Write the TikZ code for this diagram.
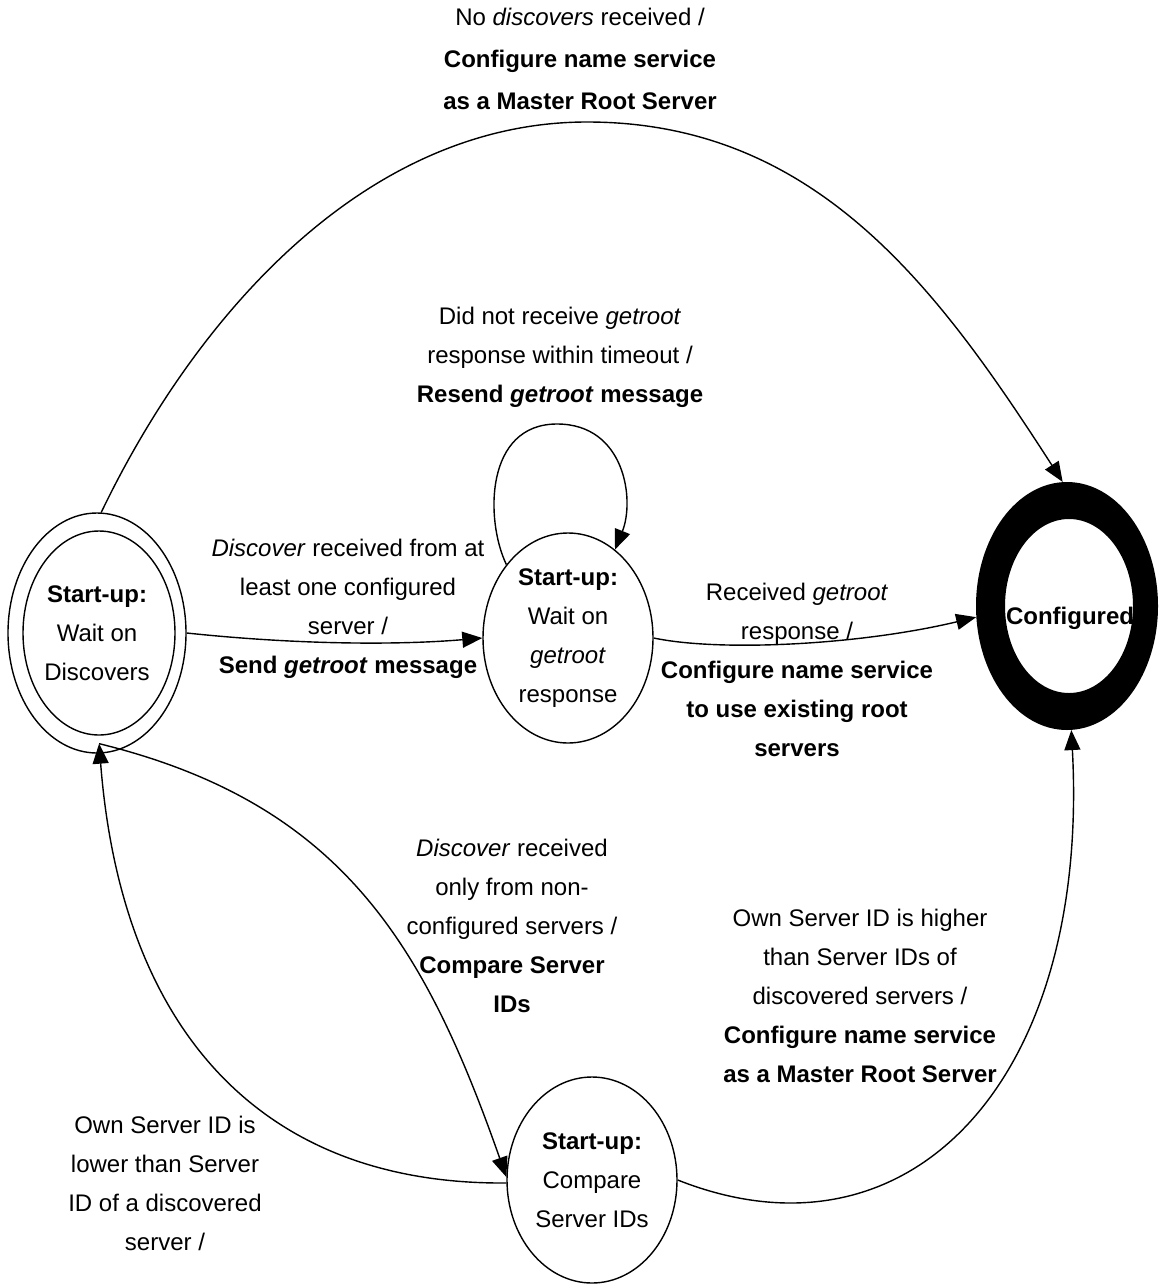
\documentclass[tikz,border=0pt]{standalone}
\usepackage{fontspec}
\setmainfont{Liberation Sans}
\usetikzlibrary{shapes.geometric,arrows.meta}
\begin{document}
\begin{tikzpicture}[x=1pt,y=-1pt,
  txt/.style={font=\fontsize{24}{39}\selectfont, align=center, inner sep=0pt},
  state/.style={ellipse, draw, line width=1.4pt, inner sep=0pt, txt},
  trans/.style={line width=1.4pt, -{Triangle[length=20pt,width=16pt]}},
  rim/.style={line width=1.4pt}]
\useasboundingbox (0,0) rectangle (1159,1285);

% states
\node[state, minimum width=178pt, minimum height=240pt] (A) at (97,633)
  {\textbf{Start-up:}\\Wait on\\Discovers};
\draw[rim] ([xshift=2pt]A.center) ellipse [x radius=76, y radius=102];

\node[state, minimum width=170pt, minimum height=210pt] (B) at (568,638)
  {\textbf{Start-up:}\\Wait on\\\textit{getroot}\\response};

\node[state, minimum width=170pt, minimum height=206pt] (D) at (592,1180)
  {\textbf{Start-up:}\\Compare\\Server IDs};

\node[ellipse, minimum width=182pt, minimum height=248pt, inner sep=0pt] (C) at (1067,606) {};
\node[txt, font=\fontsize{24}{39}\selectfont\bfseries] (Clabel) at (1070,618) {Configured};
\fill[even odd rule] (C.center) ellipse [x radius=91, y radius=124]
  ([xshift=2pt]C.center) ellipse [x radius=64, y radius=87];

% transitions
\draw[trans] (A.88) .. controls (197,313) and (367,122) .. (587,122)
  .. controls (817,122) and (939,290) .. (C.92);
\draw[trans] (B.130) .. controls (485,520) and (485,424) .. (557,424)
  .. controls (625,424) and (635,500) .. (B.62);
\draw[trans] (A.0) .. controls (300,645) and (400,645) .. (B.180);
\draw[trans] (B.0) .. controls (720,652) and (860,645) .. (C.187);
\draw[trans] ([yshift=10pt]A.-89) .. controls (341,803) and (424,943) .. (D.178);
\draw[trans] (D.182) .. controls (257,1185) and (121,1025) .. ([yshift=10pt]A.-89);
\draw[trans] (D.0) .. controls (910,1272) and (1090,1080) .. (C.-88);

% transition labels
\node[txt, font=\fontsize{24}{42}\selectfont] (lMaster) at (580,59)
  {No \textit{discovers} received /\\\textbf{Configure name service}\\\textbf{as a Master Root Server}};
\node[txt] (lResend) at (560,357)
  {Did not receive \textit{getroot}\\response within timeout /\\\textbf{Resend \textit{getroot} message}};
\node[txt] (lSend) at (348,609)
  {\textit{Discover} received from at\\least one configured\\server /\\\textbf{Send \textit{getroot} message}};
\node[txt] (lExisting) at (797,670)
  {Received \textit{getroot}\\response /\\\textbf{Configure name service}\\\textbf{to use existing root}\\\textbf{servers}};
\node[txt] (lCompare) at (512,926)
  {\textit{Discover} received\\only from non-\\configured servers /\\\textbf{Compare Server}\\\textbf{IDs}};
\node[txt] (lHigher) at (860,996)
  {Own Server ID is higher\\than Server IDs of\\discovered servers /\\\textbf{Configure name service}\\\textbf{as a Master Root Server}};
\node[txt] (lLower) at (165,1183)
  {Own Server ID is\\lower than Server\\ID of a discovered\\server /};
\end{tikzpicture}
\end{document}
